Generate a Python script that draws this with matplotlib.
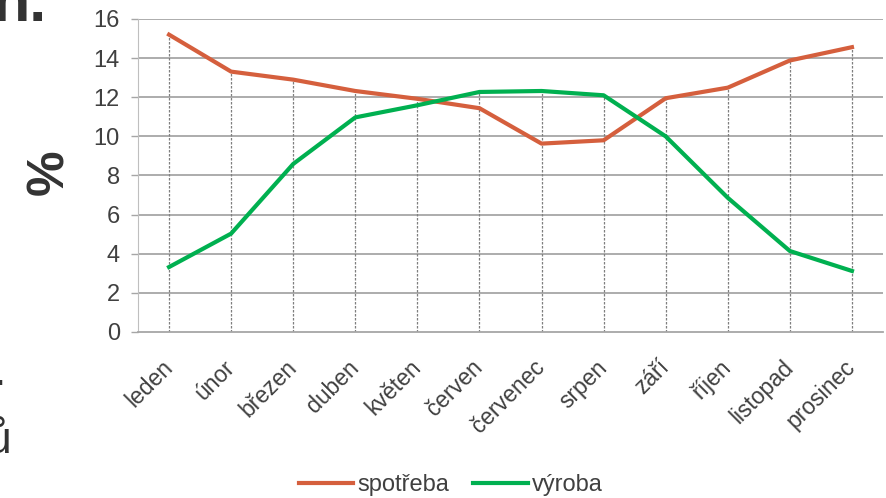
import matplotlib
matplotlib.use("Agg")
import matplotlib.pyplot as plt
import numpy as np

plt.rcParams['font.family'] = ['Liberation Sans', 'DejaVu Sans']

mesice = ["leden", "únor", "březen", "duben", "květen", "červen",
          "červenec", "srpen", "září", "říjen", "listopad", "prosinec"]
spotreba = [15.2, 13.31, 12.9, 12.32, 11.92, 11.44, 9.63, 9.8, 11.95, 12.49, 13.88, 14.56]
vyroba = [3.32, 5.03, 8.59, 10.97, 11.59, 12.27, 12.32, 12.1, 10.0, 6.86, 4.14, 3.12]
y_ticks = [0, 2, 4, 6, 8, 10, 12, 14, 16]

fig = plt.figure(figsize=(8.87, 4.98), dpi=100)
ax = fig.add_axes([138 / 887, 1 - 332 / 498, (883 - 138) / 887, (332 - 19) / 498])

x = np.arange(len(mesice))

# drop lines od nejvyssi hodnoty dolu k ose
top = np.maximum(spotreba, vyroba)
ax.vlines(x, 0, top, colors='#7f7f7f', linestyles=(0, (2, 1.2)), linewidth=0.9, zorder=1)

for yv in y_ticks[1:]:
    ax.axhline(yv, color='#a6a6a6', linewidth=1.3, zorder=0)

ax.plot(x, spotreba, color='#d55f3d', linewidth=3, label='spotřeba', zorder=3)
ax.plot(x, vyroba, color='#00b050', linewidth=3, label='výroba', zorder=3)

ax.set_xlim(-0.5, 11.5)
ax.set_ylim(0, 16)
ax.set_yticks(y_ticks)
ax.set_xticks(x)
ax.set_xticklabels(mesice, rotation=45, ha='right', va='center', rotation_mode='anchor')

ax.tick_params(axis='y', length=5, width=1, color='#a6a6a6', pad=8,
               labelsize=17, labelcolor='#404040')
ax.tick_params(axis='x', length=0, pad=23, labelsize=16.5, labelcolor='#404040')

for side in ['top', 'right']:
    ax.spines[side].set_visible(False)
ax.spines['left'].set_color('#bfbfbf')
ax.spines['bottom'].set_color('#a6a6a6')
ax.spines['bottom'].set_linewidth(1.3)

fig.text(50 / 887, 1 - 172 / 498, "%", rotation=90, ha='center', va='center',
         fontsize=37, fontweight='bold', color='#333333')

# utrzky textu ze slajdu vlevo
fig.text(47 / 887, 1 - 21 / 498, "n.", ha='right', va='baseline',
         fontsize=44, fontweight='bold', color='#333333')
fig.text(6 / 887, 1 - 385 / 498, ".", ha='right', va='baseline',
         fontsize=32, color='#333333')
fig.text(11 / 887, 1 - 453 / 498, "ů", ha='right', va='baseline',
         fontsize=32, color='#333333')

fig.legend(loc='center', bbox_to_anchor=(451 / 887, 1 - 485 / 498), ncol=2,
           frameon=False, fontsize=17, handlelength=2.3, handletextpad=0.2,
           columnspacing=1.0, labelcolor='#404040')

fig.savefig("out.png", dpi=100)
